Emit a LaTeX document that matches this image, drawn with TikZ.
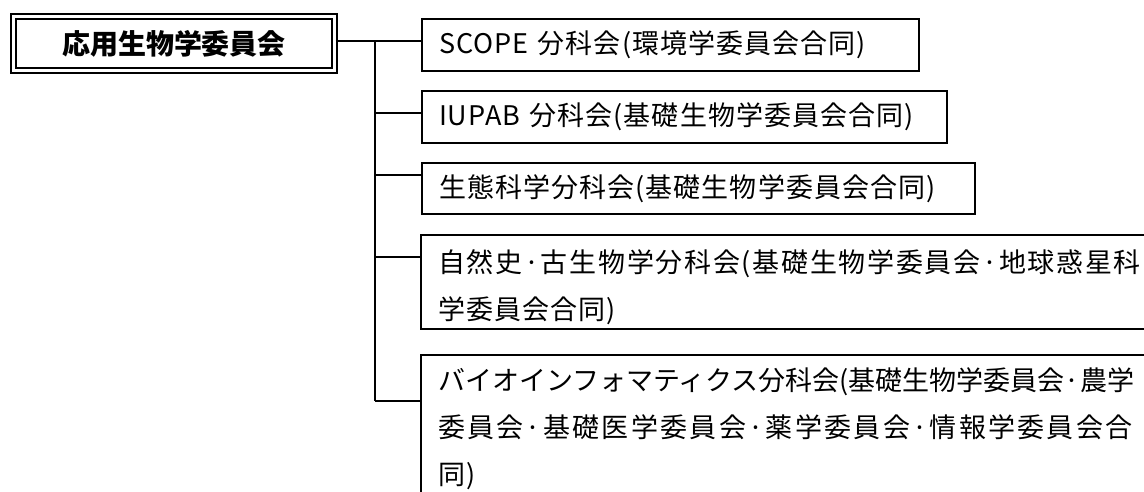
\documentclass[tikz,border=0pt]{standalone}
\usepackage{fontspec}
\newfontfamily\jp[LetterSpace=4]{Noto Sans CJK JP}
\newfontfamily\jpb{Noto Sans CJK JP}
\newcommand\lsp[2]{{\addfontfeature{LetterSpace=#1}#2}}
\begin{document}
\begin{tikzpicture}[x=1pt,y=-1pt,
  sub/.style={draw, line width=2pt, anchor=north west, inner xsep=17pt, inner ysep=0pt,
    align=left, font=\jp\fontsize{27}{47}\selectfont},
  link/.style={line width=1.5pt}]
\useasboundingbox (0,0) rectangle (1144,492);
\node[draw, line width=2pt, double, double distance=3pt, inner sep=0pt,
  minimum width=321pt, minimum height=54.5pt, font=\jpb\bfseries\fontsize{28}{34}\selectfont]
  (main) at (174,43.75) {\raisebox{-2pt}{応用生物学委員会}};
\node[sub, minimum width=497pt, minimum height=52pt, text width=463pt] (b1) at (421,18)
  {SCOPE 分科会(環境学委員会合同)};
\node[sub, minimum width=525pt, minimum height=52pt, text width=491pt] (b2) at (421,90)
  {IUPAB 分科会(基礎生物学委員会合同)};
\node[sub, minimum width=553pt, minimum height=51pt, text width=519pt] (b3) at (421,162)
  {生態科学分科会(基礎生物学委員会合同)};
\node[sub, minimum width=750pt, minimum height=94pt, text width=716pt] (b4) at (420,234)
  {\rule{0pt}{33pt}\lsp{6.3}{自然史·古生物学分科会(基礎生物学委員会·地球惑星科}\\学委員会合同)};
\node[sub, minimum width=750pt, minimum height=148pt, text width=716pt] (b5) at (420,354)
  {\lsp{0}{バイオインフォマティクス分科会(基礎生物学委員会·農学}\\\lsp{8.5}{委員会·基礎医学委員会·薬学委員会·情報学委員会合}\\同)};
\coordinate (j1) at (375,41);
\coordinate (j2) at (375,113);
\coordinate (j3) at (375,175);
\coordinate (j4) at (375,257);
\coordinate (j5) at (375,401);
\draw[link] (main.east |- j1) -- (j1 -| b1.west);
\draw[link] (j1) -- (j5);
\draw[link] (j2) -- (j2 -| b2.west);
\draw[link] (j3) -- (j3 -| b3.west);
\draw[link] (j4) -- (j4 -| b4.west);
\draw[link] (j5) -- (j5 -| b5.west);
\end{tikzpicture}
\end{document}
